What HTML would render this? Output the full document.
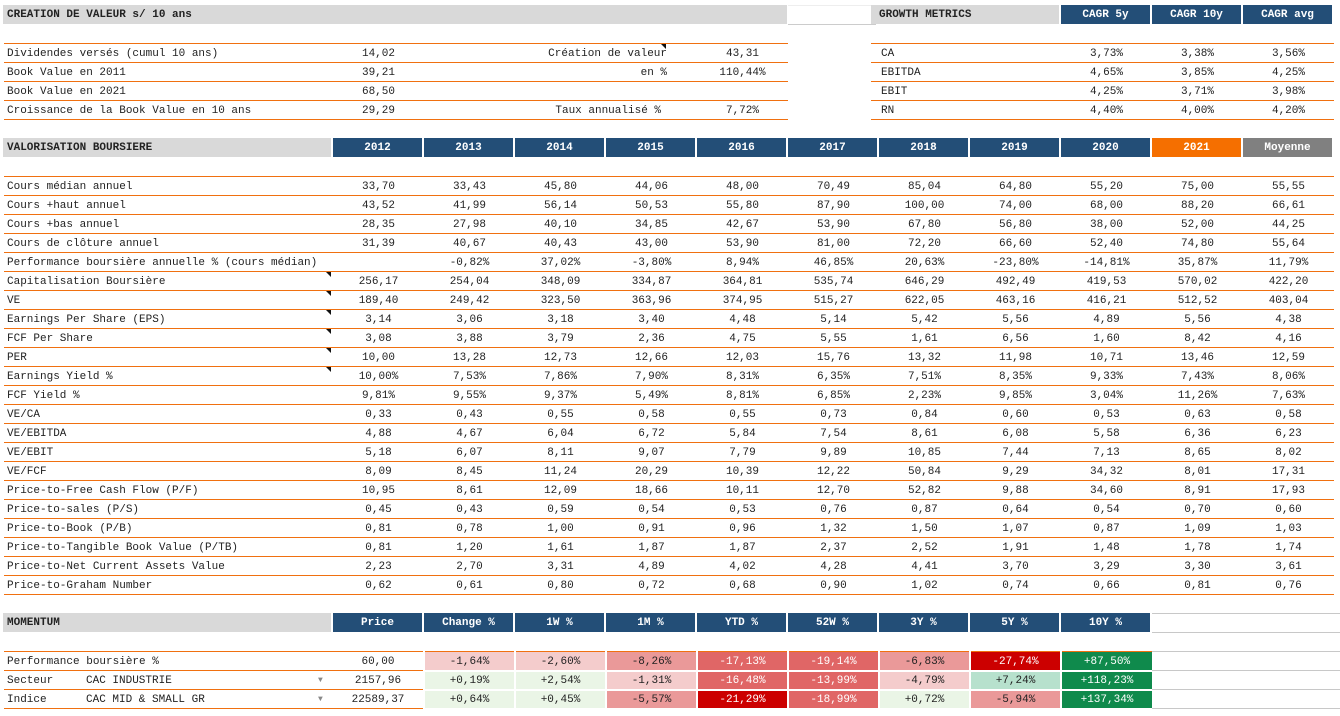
<!DOCTYPE html>
<html><head><meta charset="utf-8"><style>
body{margin:0;width:1340px;height:716px;background:#fff;position:relative;font:11px "Liberation Mono",monospace;color:#222;overflow:hidden}
.h{position:absolute;height:19px;display:flex}
.h div{height:19px;line-height:21px;box-sizing:border-box;text-align:center;font-weight:bold;color:#fff;background:#234e77;border-left:2px solid #fff}
.h div.g{background:#d9d9d9;color:#222;text-align:left;padding-left:4px;border-left:0}
.h div.o{background:#f56f00}
.h div.m{background:#808080}
table{position:absolute;border-collapse:collapse;table-layout:fixed;font:11px "Liberation Mono",monospace;color:#222}
tr{height:19px}
td{padding:2px 0 0 0;line-height:14px;border-bottom:1px solid #f07010;text-align:center;white-space:nowrap;overflow:visible}
tr.f td{border-top:1px solid #f07010}
td.l{text-align:left;padding-left:3px}
.mk{position:absolute;width:0;height:0;border-top:5px solid #111;border-left:5px solid transparent}
.gl{position:absolute;left:1152px;width:188px;height:1px;background:#c8c8c8}
.hm td{border-bottom:2px solid #fff;border-left:2px solid #fff}
</style></head><body>

<div class="h" style="left:3px;top:5px"><div class="g" style="width:784px">CREATION DE VALEUR s/ 10 ans</div></div>
<div style="position:absolute;left:788px;top:5px;width:88px;height:18px;border-bottom:1px solid #ccc;border-top:1px solid #eee"></div>
<div class="h" style="left:871px;top:5px"><div class="g" style="width:188px;padding-left:8px">GROWTH METRICS</div><div style="width:91px">CAGR 5y</div><div style="width:91px">CAGR 10y</div><div style="width:91px">CAGR avg</div></div>

<table style="left:4px;top:43px;width:784px">
<colgroup><col style="width:329px"><col style="width:91px"><col style="width:273px"><col style="width:91px"></colgroup>
<tr class="f"><td class="l">Dividendes versés (cumul 10 ans)</td><td>14,02</td><td style="text-align:right;padding-right:30px">Création de valeur</td><td>43,31</td></tr>
<tr><td class="l">Book Value en 2011</td><td>39,21</td><td style="text-align:right;padding-right:30px">en %</td><td>110,44%</td></tr>
<tr><td class="l">Book Value en 2021</td><td>68,50</td><td></td><td></td></tr>
<tr><td class="l">Croissance de la Book Value en 10 ans</td><td>29,29</td><td style="text-align:right;padding-right:36px">Taux annualisé %</td><td>7,72%</td></tr>
</table>
<div class="mk" style="left:661px;top:44px"></div>

<table style="left:871px;top:43px;width:463px">
<colgroup><col style="width:190px"><col style="width:91px"><col style="width:91px"><col style="width:91px"></colgroup>
<tr class="f"><td class="l" style="padding-left:10px">CA</td><td>3,73%</td><td>3,38%</td><td>3,56%</td></tr>
<tr><td class="l" style="padding-left:10px">EBITDA</td><td>4,65%</td><td>3,85%</td><td>4,25%</td></tr>
<tr><td class="l" style="padding-left:10px">EBIT</td><td>4,25%</td><td>3,71%</td><td>3,98%</td></tr>
<tr><td class="l" style="padding-left:10px">RN</td><td>4,40%</td><td>4,00%</td><td>4,20%</td></tr>
</table>

<div class="h" style="left:3px;top:138px"><div class="g" style="width:328px">VALORISATION BOURSIERE</div><div style="width:91px">2012</div><div style="width:91px">2013</div><div style="width:91px">2014</div><div style="width:91px">2015</div><div style="width:91px">2016</div><div style="width:91px">2017</div><div style="width:91px">2018</div><div style="width:91px">2019</div><div style="width:91px">2020</div><div class="o" style="width:91px">2021</div><div class="m" style="width:91px">Moyenne</div></div>

<table style="left:4px;top:176px;width:1330px">
<colgroup><col style="width:329px"><col span="11" style="width:91px"></colgroup>
<tr class="f"><td class="l">Cours médian annuel</td><td>33,70</td><td>33,43</td><td>45,80</td><td>44,06</td><td>48,00</td><td>70,49</td><td>85,04</td><td>64,80</td><td>55,20</td><td>75,00</td><td>55,55</td></tr>
<tr><td class="l">Cours +haut annuel</td><td>43,52</td><td>41,99</td><td>56,14</td><td>50,53</td><td>55,80</td><td>87,90</td><td>100,00</td><td>74,00</td><td>68,00</td><td>88,20</td><td>66,61</td></tr>
<tr><td class="l">Cours +bas annuel</td><td>28,35</td><td>27,98</td><td>40,10</td><td>34,85</td><td>42,67</td><td>53,90</td><td>67,80</td><td>56,80</td><td>38,00</td><td>52,00</td><td>44,25</td></tr>
<tr><td class="l">Cours de clôture annuel</td><td>31,39</td><td>40,67</td><td>40,43</td><td>43,00</td><td>53,90</td><td>81,00</td><td>72,20</td><td>66,60</td><td>52,40</td><td>74,80</td><td>55,64</td></tr>
<tr><td class="l">Performance boursière annuelle % (cours médian)</td><td></td><td>-0,82%</td><td>37,02%</td><td>-3,80%</td><td>8,94%</td><td>46,85%</td><td>20,63%</td><td>-23,80%</td><td>-14,81%</td><td>35,87%</td><td>11,79%</td></tr>
<tr><td class="l">Capitalisation Boursière</td><td>256,17</td><td>254,04</td><td>348,09</td><td>334,87</td><td>364,81</td><td>535,74</td><td>646,29</td><td>492,49</td><td>419,53</td><td>570,02</td><td>422,20</td></tr>
<tr><td class="l">VE</td><td>189,40</td><td>249,42</td><td>323,50</td><td>363,96</td><td>374,95</td><td>515,27</td><td>622,05</td><td>463,16</td><td>416,21</td><td>512,52</td><td>403,04</td></tr>
<tr><td class="l">Earnings Per Share (EPS)</td><td>3,14</td><td>3,06</td><td>3,18</td><td>3,40</td><td>4,48</td><td>5,14</td><td>5,42</td><td>5,56</td><td>4,89</td><td>5,56</td><td>4,38</td></tr>
<tr><td class="l">FCF Per Share</td><td>3,08</td><td>3,88</td><td>3,79</td><td>2,36</td><td>4,75</td><td>5,55</td><td>1,61</td><td>6,56</td><td>1,60</td><td>8,42</td><td>4,16</td></tr>
<tr><td class="l">PER</td><td>10,00</td><td>13,28</td><td>12,73</td><td>12,66</td><td>12,03</td><td>15,76</td><td>13,32</td><td>11,98</td><td>10,71</td><td>13,46</td><td>12,59</td></tr>
<tr><td class="l">Earnings Yield %</td><td>10,00%</td><td>7,53%</td><td>7,86%</td><td>7,90%</td><td>8,31%</td><td>6,35%</td><td>7,51%</td><td>8,35%</td><td>9,33%</td><td>7,43%</td><td>8,06%</td></tr>
<tr><td class="l">FCF Yield %</td><td>9,81%</td><td>9,55%</td><td>9,37%</td><td>5,49%</td><td>8,81%</td><td>6,85%</td><td>2,23%</td><td>9,85%</td><td>3,04%</td><td>11,26%</td><td>7,63%</td></tr>
<tr><td class="l">VE/CA</td><td>0,33</td><td>0,43</td><td>0,55</td><td>0,58</td><td>0,55</td><td>0,73</td><td>0,84</td><td>0,60</td><td>0,53</td><td>0,63</td><td>0,58</td></tr>
<tr><td class="l">VE/EBITDA</td><td>4,88</td><td>4,67</td><td>6,04</td><td>6,72</td><td>5,84</td><td>7,54</td><td>8,61</td><td>6,08</td><td>5,58</td><td>6,36</td><td>6,23</td></tr>
<tr><td class="l">VE/EBIT</td><td>5,18</td><td>6,07</td><td>8,11</td><td>9,07</td><td>7,79</td><td>9,89</td><td>10,85</td><td>7,44</td><td>7,13</td><td>8,65</td><td>8,02</td></tr>
<tr><td class="l">VE/FCF</td><td>8,09</td><td>8,45</td><td>11,24</td><td>20,29</td><td>10,39</td><td>12,22</td><td>50,84</td><td>9,29</td><td>34,32</td><td>8,01</td><td>17,31</td></tr>
<tr><td class="l">Price-to-Free Cash Flow (P/F)</td><td>10,95</td><td>8,61</td><td>12,09</td><td>18,66</td><td>10,11</td><td>12,70</td><td>52,82</td><td>9,88</td><td>34,60</td><td>8,91</td><td>17,93</td></tr>
<tr><td class="l">Price-to-sales (P/S)</td><td>0,45</td><td>0,43</td><td>0,59</td><td>0,54</td><td>0,53</td><td>0,76</td><td>0,87</td><td>0,64</td><td>0,54</td><td>0,70</td><td>0,60</td></tr>
<tr><td class="l">Price-to-Book (P/B)</td><td>0,81</td><td>0,78</td><td>1,00</td><td>0,91</td><td>0,96</td><td>1,32</td><td>1,50</td><td>1,07</td><td>0,87</td><td>1,09</td><td>1,03</td></tr>
<tr><td class="l">Price-to-Tangible Book Value (P/TB)</td><td>0,81</td><td>1,20</td><td>1,61</td><td>1,87</td><td>1,87</td><td>2,37</td><td>2,52</td><td>1,91</td><td>1,48</td><td>1,78</td><td>1,74</td></tr>
<tr><td class="l">Price-to-Net Current Assets Value</td><td>2,23</td><td>2,70</td><td>3,31</td><td>4,89</td><td>4,02</td><td>4,28</td><td>4,41</td><td>3,70</td><td>3,29</td><td>3,30</td><td>3,61</td></tr>
<tr><td class="l">Price-to-Graham Number</td><td>0,62</td><td>0,61</td><td>0,80</td><td>0,72</td><td>0,68</td><td>0,90</td><td>1,02</td><td>0,74</td><td>0,66</td><td>0,81</td><td>0,76</td></tr>
</table>
<div class="mk" style="left:326px;top:272px"></div>
<div class="mk" style="left:326px;top:291px"></div>
<div class="mk" style="left:326px;top:310px"></div>
<div class="mk" style="left:326px;top:329px"></div>
<div class="mk" style="left:326px;top:348px"></div>
<div class="mk" style="left:326px;top:367px"></div>

<div class="h" style="left:3px;top:613px"><div class="g" style="width:328px">MOMENTUM</div><div style="width:91px">Price</div><div style="width:91px">Change %</div><div style="width:91px">1W %</div><div style="width:91px">1M %</div><div style="width:91px">YTD %</div><div style="width:91px">52W %</div><div style="width:91px">3Y %</div><div style="width:91px">5Y %</div><div style="width:91px">10Y %</div></div>
<div class="gl" style="top:613px"></div><div class="gl" style="top:632px"></div><div class="gl" style="top:651px"></div><div class="gl" style="top:670px"></div><div class="gl" style="top:689px"></div><div class="gl" style="top:708px"></div>

<table style="left:4px;top:651px;width:1147px">
<colgroup><col style="width:329px"><col span="9" style="width:91px"></colgroup>
<tr class="f hm"><td class="l" style="border-bottom:1px solid #f07010;border-left:0">Performance boursière %</td><td style="border-bottom:1px solid #f07010;border-left:0">60,00</td>
<td style="background:#f4cccc">-1,64%</td><td style="background:#f4cccc">-2,60%</td><td style="background:#ea9999">-8,26%</td><td style="background:#e06666;color:#fff">-17,13%</td><td style="background:#e06666;color:#fff">-19,14%</td><td style="background:#ea9999">-6,83%</td><td style="background:#cc0000;color:#fff">-27,74%</td><td style="background:#0f8a4c;color:#fff">+87,50%</td></tr>
<tr class="hm"><td class="l" style="border-bottom:1px solid #f07010;border-left:0;position:relative">Secteur<span style="position:absolute;left:82px">CAC INDUSTRIE</span><span style="position:absolute;left:314px;color:#888;font-size:8px">▼</span></td><td style="border-bottom:1px solid #f07010;border-left:0">2157,96</td>
<td style="background:#eaf5e6">+0,19%</td><td style="background:#eaf5e6">+2,54%</td><td style="background:#f4cccc">-1,31%</td><td style="background:#e06666;color:#fff">-16,48%</td><td style="background:#e06666;color:#fff">-13,99%</td><td style="background:#f4cccc">-4,79%</td><td style="background:#b7e1cd">+7,24%</td><td style="background:#0f8a4c;color:#fff">+118,23%</td></tr>
<tr class="hm"><td class="l" style="border-bottom:1px solid #f07010;border-left:0;position:relative">Indice<span style="position:absolute;left:82px">CAC MID &amp; SMALL GR</span><span style="position:absolute;left:314px;color:#888;font-size:8px">▼</span></td><td style="border-bottom:1px solid #f07010;border-left:0">22589,37</td>
<td style="background:#eaf5e6">+0,64%</td><td style="background:#eaf5e6">+0,45%</td><td style="background:#ea9999">-5,57%</td><td style="background:#cc0000;color:#fff">-21,29%</td><td style="background:#e06666;color:#fff">-18,99%</td><td style="background:#eaf5e6">+0,72%</td><td style="background:#ea9999">-5,94%</td><td style="background:#0f8a4c;color:#fff">+137,34%</td></tr>
</table>
</body></html>
